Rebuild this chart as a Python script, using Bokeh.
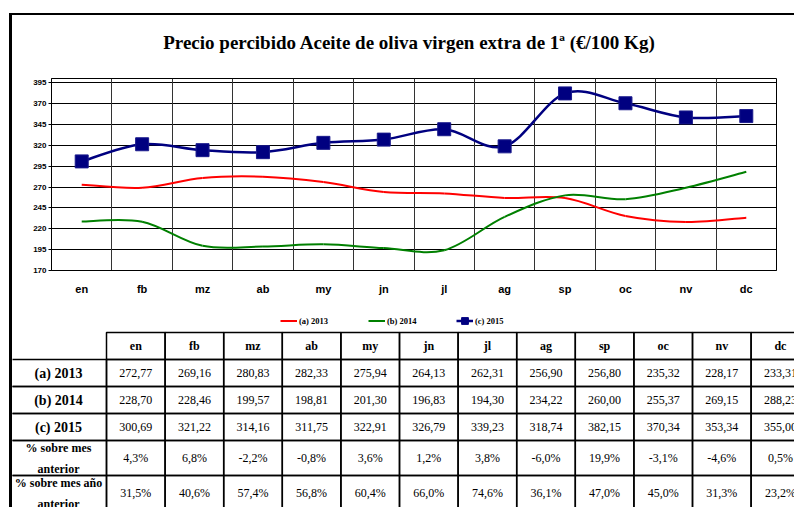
from bokeh.plotting import figure
from bokeh.models import (FactorRange, Range1d, FixedTicker, Grid, Legend,
                          LegendItem, ColumnDataSource)
from bokeh.core.properties import value
from bokeh.embed import file_html
from bokeh.resources import INLINE

# ---------------- data ----------------
months = ["en", "fb", "mz", "ab", "my", "jn", "jl", "ag", "sp", "oc", "nv", "dc"]
s2013 = [272.77, 269.16, 280.83, 282.33, 275.94, 264.13, 262.31, 256.90, 256.80, 235.32, 228.17, 233.31]
s2014 = [228.70, 228.46, 199.57, 198.81, 201.30, 196.83, 194.30, 234.22, 260.00, 255.37, 269.15, 288.23]
s2015 = [300.69, 321.22, 314.16, 311.75, 322.91, 326.79, 339.23, 318.74, 382.15, 370.34, 353.34, 355.00]
pct_prev_month = ["4,3%", "6,8%", "-2,2%", "-0,8%", "3,6%", "1,2%", "3,8%", "-6,0%", "19,9%", "-3,1%", "-4,6%", "0,5%"]
pct_prev_year = ["31,5%", "40,6%", "57,4%", "56,8%", "60,4%", "66,0%", "74,6%", "36,1%", "47,0%", "45,0%", "31,3%", "23,2%"]
series_labels = ["(a) 2013", "(b) 2014", "(c) 2015"]
series_colors = ["#ff0000", "#008000", "#000080"]
row_labels = ["(a) 2013", "(b) 2014", "(c) 2015", "% sobre mes\nanterior", "% sobre mes año\nanterior"]
y_ticks = [170, 195, 220, 245, 270, 295, 320, 345, 370, 395]
title_text = "Precio percibido Aceite de oliva virgen extra de 1ª (€/100 Kg)"

SANS = "Liberation Sans"
SERIF = "Liberation Serif"
NAN = float("nan")
PAGE_W = 797          # page width (px); content starts after a 9px gap + 3px frame line
X0 = 12


def smooth_segments(vals):
    """Bezier segments (Catmull-Rom style smoothing, like a spreadsheet smoothed line)."""
    n = len(vals)
    xs = [i + 0.5 for i in range(n)]
    seg = dict(x0=[], y0=[], x1=[], y1=[], cx0=[], cy0=[], cx1=[], cy1=[])
    for i in range(n - 1):
        a = i - 1 if i > 0 else i
        d = i + 2 if i + 2 < n else i + 1
        seg["x0"].append(xs[i]); seg["y0"].append(vals[i])
        seg["x1"].append(xs[i + 1]); seg["y1"].append(vals[i + 1])
        seg["cx0"].append(xs[i] + (xs[i + 1] - xs[a]) / 6.0)
        seg["cy0"].append(vals[i] + (vals[i + 1] - vals[a]) / 6.0)
        seg["cx1"].append(xs[i + 1] - (xs[d] - xs[i]) / 6.0)
        seg["cy1"].append(vals[i + 1] - (vals[d] - vals[i]) / 6.0)
    return seg


def blank_panel(height, y_top, y_bottom, styles):
    f = figure(width=PAGE_W - X0, height=height, x_range=Range1d(X0, PAGE_W),
               y_range=Range1d(y_bottom, y_top), output_backend="svg", toolbar_location=None,
               min_border=0, x_axis_location=None, y_axis_location=None)
    f.styles = styles
    f.grid.visible = False
    f.outline_line_color = None
    return f


# ---------------- title band ----------------
h = blank_panel(60, 15, 75, {"margin-left": "9px", "margin-top": "13px",
                             "border-left": "3px solid black", "border-top": "2px solid black"})
h.text(x=[409], y=[42], text=[title_text], text_align="center", text_baseline="middle",
       text_font=value(SERIF), text_font_style="bold", text_font_size="19px", text_color="black")

# ---------------- chart ----------------
p = figure(width=PAGE_W - X0, height=225, x_range=FactorRange(factors=months),
           y_range=Range1d(170, 400), output_backend="svg", toolbar_location=None,
           min_border_left=39, min_border_right=21, min_border_top=5, min_border_bottom=28)
p.styles = {"margin-left": "9px", "border-left": "3px solid black"}
p.outline_line_color = "black"

p.yaxis.ticker = FixedTicker(ticks=y_ticks)
p.ygrid.ticker = FixedTicker(ticks=y_ticks)
p.ygrid.grid_line_color = "black"
p.ygrid.grid_line_width = 1
p.xgrid.grid_line_color = None
p.add_layout(Grid(dimension=0, ticker=FixedTicker(ticks=list(range(1, len(months)))),
                  grid_line_color="#333333", grid_line_width=1))

p.yaxis.major_label_text_font = SANS
p.yaxis.major_label_text_font_style = "bold"
p.yaxis.major_label_text_font_size = "8px"
p.yaxis.major_label_text_color = "black"
p.yaxis.major_tick_out = 3
p.yaxis.major_tick_in = 0
p.yaxis.minor_tick_line_color = None
p.yaxis.axis_line_color = "black"
p.yaxis.major_label_standoff = 2

p.xaxis.major_tick_line_color = None
p.xaxis.major_label_text_font = SANS
p.xaxis.major_label_text_font_style = "bold"
p.xaxis.major_label_text_font_size = "11px"
p.xaxis.major_label_text_color = "black"
p.xaxis.major_label_standoff = 6
p.xaxis.axis_line_color = "black"

for vals, color, lw in [(s2013, series_colors[0], 2), (s2014, series_colors[1], 2),
                        (s2015, series_colors[2], 2.5)]:
    src = ColumnDataSource(smooth_segments(vals))
    p.bezier(x0="x0", y0="y0", x1="x1", y1="y1", cx0="cx0", cy0="cy0", cx1="cx1", cy1="cy1",
             source=src, line_color=color, line_width=lw)

p.scatter(x=months, y=s2015, marker="square", size=13,
          fill_color="#000080", line_color="#1a1a8c", line_width=1)

# ---------------- legend + table ----------------
t = blank_panel(209, 300, 509, {"margin-left": "9px", "border-left": "3px solid black"})

# legend keys (styled like the chart series; no points of their own)
k_a = t.line(x=[NAN], y=[NAN], line_color=series_colors[0], line_width=2)
k_b = t.line(x=[NAN], y=[NAN], line_color=series_colors[1], line_width=2)
k_c = t.line(x=[NAN], y=[NAN], line_color=series_colors[2], line_width=2.5)
k_cs = t.scatter(x=[NAN], y=[NAN], marker="square", fill_color="#000080", line_color="#000080")
legend = Legend(items=[LegendItem(label=series_labels[0], renderers=[k_a]),
                       LegendItem(label=series_labels[1], renderers=[k_b]),
                       LegendItem(label=series_labels[2], renderers=[k_c, k_cs])],
                orientation="horizontal", location=(268, 178),
                background_fill_alpha=0, border_line_color=None,
                label_text_font=SERIF, label_text_font_style="bold", label_text_font_size="8.5px",
                label_text_color="black",
                glyph_width=17, glyph_height=17, label_height=17, label_width=34,
                label_standoff=2, spacing=35, padding=0, margin=0)
t.add_layout(legend)

label_left, col_left, col_w = 8, 106, 58.6
row_edges = [334, 361, 388, 415, 442, 477, 512]

col_l = [col_left + j * col_w for j in range(len(months))]
col_c = [c + col_w / 2 for c in col_l]

# header cells
t.quad(left=col_l, right=[c + col_w for c in col_l], top=[row_edges[0]] * len(months),
       bottom=[row_edges[1]] * len(months), fill_color=None, line_color="black", line_width=1.5)
t.text(x=col_c, y=[(row_edges[0] + row_edges[1]) / 2] * len(months), text=months,
       text_align="center", text_baseline="middle", text_font=value(SERIF),
       text_font_style="bold", text_font_size="12px")

rows_values = [
    [f"{v:.2f}".replace(".", ",") for v in s2013],
    [f"{v:.2f}".replace(".", ",") for v in s2014],
    [f"{v:.2f}".replace(".", ",") for v in s2015],
    pct_prev_month,
    pct_prev_year,
]
for r, vals in enumerate(rows_values):
    top, bot = row_edges[r + 1], row_edges[r + 2]
    mid = (top + bot) / 2
    t.quad(left=[label_left] + col_l, right=[col_left] + [c + col_w for c in col_l],
           top=[top] * (len(months) + 1), bottom=[bot] * (len(months) + 1),
           fill_color=None, line_color="black", line_width=1.5)
    t.text(x=[(10 + col_left) / 2], y=[mid], text=[row_labels[r]],
           text_align="center", text_baseline="middle", text_font=value(SERIF),
           text_font_style="bold", text_font_size="14px" if r < 3 else "12px",
           text_line_height=1.5)
    t.text(x=col_c, y=[mid] * len(months), text=vals,
           text_align="center", text_baseline="middle", text_font=value(SERIF),
           text_font_size="12px")

open("out.html", "w").write(file_html([h, p, t], INLINE))
